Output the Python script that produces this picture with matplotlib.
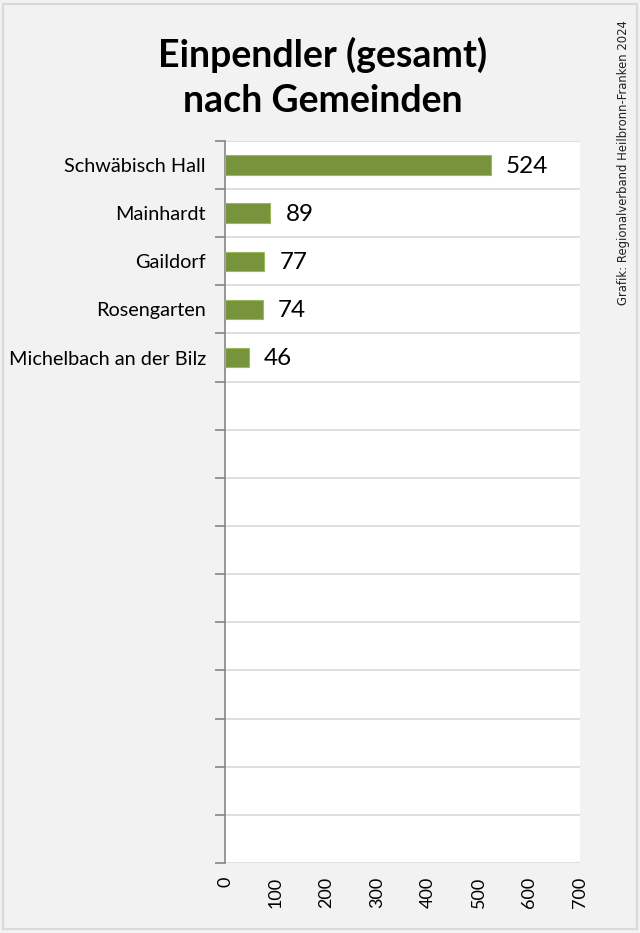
import numpy as np
import matplotlib.pyplot as plt
from matplotlib.patches import Rectangle

# data
gemeinden = ["Schwäbisch Hall", "Mainhardt", "Gaildorf", "Rosengarten",
             "Michelbach an der Bilz"] + [""] * 10
einpendler = [524, 89, 77, 74, 46]
x_ticks = [0, 100, 200, 300, 400, 500, 600, 700]

plt.rcParams['font.family'] = ['Lato', 'DejaVu Sans']

fig = plt.figure(figsize=(6.4, 9.33), dpi=100)
fig.patch.set_facecolor("#f2f2f2")
# thin border round the chart area
fig.patches.append(Rectangle((0.005, 0.004), 0.99, 0.992, transform=fig.transFigure,
                             fill=False, edgecolor="#d9d9d9", lw=1.5, zorder=5))

ax = fig.add_axes([0.352, 0.075, 0.554, 0.774])
ax.set_facecolor("white")

pos = np.arange(len(gemeinden))
ax.barh(pos[:len(einpendler)], einpendler, height=0.4, color="#77933c",
        edgecolor="#9bbb59", linewidth=0.8, zorder=3)
for p, v in zip(pos, einpendler):
    ax.text(v + 30, p + 0.03, str(v), va="center", ha="left", fontsize=17.5, color="black")

ax.set_xlim(0, 700)
ax.set_ylim(len(gemeinden) - 0.5, -0.5)
ax.set_xticks(x_ticks)
ax.set_xticklabels([str(t) for t in x_ticks], rotation=90, fontsize=13)
ax.tick_params(axis="x", length=0, pad=10)

ax.set_yticks(pos)
ax.set_yticklabels(gemeinden, fontsize=14.3)
ax.tick_params(axis="y", which="major", length=0, pad=14)
ax.set_yticks(np.arange(-0.5, len(gemeinden)), minor=True)
ax.tick_params(axis="y", which="minor", length=7, width=1.2, color="#868686")
ax.grid(axis="y", which="minor", color="#d9d9d9", lw=1.2, zorder=0)
ax.grid(axis="y", which="major", visible=False)

for s in ["top", "right", "bottom"]:
    ax.spines[s].set_visible(False)
ax.spines["left"].set_color("#868686")
ax.spines["left"].set_linewidth(1.2)

fig.text(0.504, 0.917, "Einpendler (gesamt)\nnach Gemeinden", ha="center", va="center",
         fontsize=27, fontweight="bold", linespacing=1.4)
fig.text(0.974, 0.673, "Grafik: Regionalverband Heilbronn-Franken 2024", rotation=90,
         ha="center", va="bottom", fontsize=8.4, family="DejaVu Sans", color="#222222")

fig.savefig("out.png", dpi=100, facecolor=fig.get_facecolor())
